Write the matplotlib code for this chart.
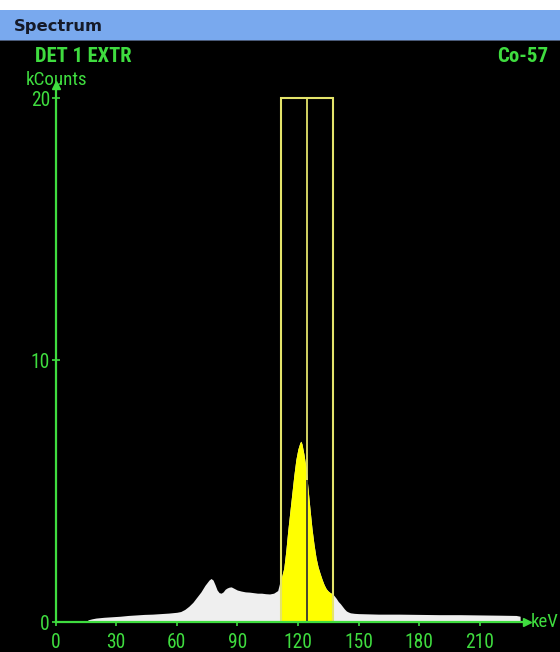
import numpy as np
import matplotlib
matplotlib.use("Agg")
import matplotlib.pyplot as plt
from matplotlib.patches import Rectangle
from matplotlib import font_manager as fm
from matplotlib.font_manager import FontProperties

# ---------------- data ----------------
energies = [16, 18, 20, 24, 28, 32, 36, 40, 44, 48, 52, 56, 60, 62, 64, 66, 68, 70,
            72, 74, 76, 77, 78, 79, 80, 81, 82, 83, 84, 85, 86, 87, 88, 90, 92, 94,
            96, 98, 100, 102, 104, 106, 108, 110, 111, 112, 113, 114, 115, 116, 117,
            118, 119, 120, 121, 121.5, 122, 123, 124, 125, 126, 127, 128, 129, 130,
            131, 132, 133, 134, 135, 136, 137, 138, 139, 140, 141, 142, 143, 144,
            145, 146, 148, 150, 160, 170, 180, 190, 200, 210, 220, 228, 230]
counts = [0.08, 0.12, 0.15, 0.18, 0.20, 0.22, 0.25, 0.27, 0.29, 0.30, 0.32, 0.34, 0.37,
          0.40, 0.48, 0.60, 0.75, 0.95, 1.15, 1.40, 1.60, 1.66, 1.60, 1.42, 1.22, 1.12,
          1.10, 1.15, 1.25, 1.30, 1.33, 1.34, 1.30, 1.22, 1.18, 1.15, 1.14, 1.12, 1.10,
          1.10, 1.08, 1.07, 1.10, 1.20, 1.50, 1.75, 2.05, 2.70, 3.50, 4.20, 4.90, 5.60,
          6.20, 6.60, 6.85, 6.90, 6.80, 6.40, 5.90, 5.10, 4.30, 3.55, 2.95, 2.45, 2.10,
          1.85, 1.62, 1.42, 1.27, 1.18, 1.12, 1.08, 1.00, 0.90, 0.78, 0.70, 0.60, 0.50,
          0.42, 0.38, 0.35, 0.33, 0.32, 0.30, 0.30, 0.29, 0.28, 0.28, 0.27, 0.26, 0.25,
          0.22]

x_ticks = [0, 30, 60, 90, 120, 150, 180, 210]
y_ticks = [0, 10, 20]
roi_lo, roi_center, roi_hi, roi_top = 111.6, 124.6, 137.2, 20
x_max, y_max = 233.4, 20.5

title = "Spectrum"
detector = "DET 1 EXTR"
isotope = "Co-57"
y_label = "kCounts"
x_label = "keV"

# ---------------- fonts ----------------
def is_bold(f):
    w = f.weight
    if isinstance(w, str):
        return w.lower() in ("bold", "heavy", "black", "extra bold", "demibold", "semibold")
    return w >= 600

def is_narrow(f):
    fn = f.fname.lower()
    st = str(f.stretch).lower()
    return ("condensed" in st or "narrow" in fn or "condensed" in fn
            or (isinstance(f.stretch, (int, float)) and f.stretch < 500))

def find_narrow(bold):
    prefs = ["Liberation Sans Narrow", "Roboto Condensed", "Open Sans Condensed",
             "DejaVu Sans", "Noto Sans", "Roboto", "Open Sans", "Liberation Sans"]
    for name in prefs:
        for f in fm.fontManager.ttflist:
            if f.name == name and is_narrow(f) and is_bold(f) == bold \
                    and str(f.style) == "normal":
                return FontProperties(fname=f.fname)
    return FontProperties(family="DejaVu Sans", weight="bold" if bold else "normal")

FP_REG = find_narrow(False)
FP_BOLD = find_narrow(True)

# ---------------- style ----------------
W, H = 560, 652
GREEN = "#3fdc3f"
BLUE = "#79a9ee"

fig = plt.figure(figsize=(W / 100, H / 100), dpi=100, facecolor="black")
renderer = fig.canvas.get_renderer()

def fx(px):
    return px / W

def fy(py):
    return 1 - py / H

def fit(txt, target_w, max_size):
    txt.set_fontsize(max_size)
    w = txt.get_window_extent(renderer=renderer).width
    if w > target_w:
        txt.set_fontsize(max_size * target_w / w)
    return txt

def ftext(x, y, s, fp, color, ha, target_w, max_size, **kw):
    t = fig.text(fx(x), fy(y), s, color=color, ha=ha, va="center",
                 fontproperties=fp.copy(), **kw)
    return fit(t, target_w, max_size)

# white strip + blue title bar
fig.patches.append(Rectangle((0, fy(10)), 1, 10 / H, transform=fig.transFigure,
                             facecolor="white", edgecolor="none", zorder=0))
fig.patches.append(Rectangle((0, fy(40)), 1, 30 / H, transform=fig.transFigure,
                             facecolor=BLUE, edgecolor="none", zorder=0))
fig.patches.append(Rectangle((0, fy(41)), 1, 1.2 / H, transform=fig.transFigure,
                             facecolor="#4a5a78", edgecolor="none", zorder=0))
fig.text(fx(14), fy(26), title, fontsize=11.8, fontweight="bold",
         color="#151a28", va="center", ha="left", family="DejaVu Sans")

ftext(35, 56, detector, FP_BOLD, GREEN, "left", 97, 15)
ftext(548, 56, isotope, FP_BOLD, GREEN, "right", 53, 15)
ftext(26, 80, y_label, FP_REG, GREEN, "left", 62, 14)

# axes
x0_px, y0_px = 55.5, 622
ax_w = x_max * 2.02
ax_h = y_max * 26.2
ax = fig.add_axes([fx(x0_px), fy(y0_px), ax_w / W, ax_h / H])
ax.set_facecolor("none")
ax.set_xlim(0, x_max)
ax.set_ylim(0, y_max)

e = np.array(energies)
c = np.array(counts)
ax.fill_between(e, c, 0, color="#efefef", linewidth=0, zorder=2)

xs = np.linspace(roi_lo, roi_hi, 300)
ys = np.interp(xs, e, c)
ax.fill_between(xs, ys, 0, color="#ffff00", linewidth=0, zorder=3)

box_col = "#e4e46a"
ax.plot([roi_lo, roi_lo, roi_hi, roi_hi], [0, roi_top, roi_top, 0],
        color=box_col, lw=1.5, zorder=4, solid_joinstyle="miter")
ax.vlines(roi_center, 0, roi_top, color=box_col, lw=1.3, zorder=4)
ax.vlines(roi_center, 0, np.interp(roi_center, e, c), color="#3a3a2a", lw=1.3, zorder=5)

for s in ["top", "right"]:
    ax.spines[s].set_visible(False)
for s in ["left", "bottom"]:
    ax.spines[s].set_color(GREEN)
    ax.spines[s].set_linewidth(1.6)
    ax.spines[s].set_zorder(6)

ax.set_xticks(x_ticks)
ax.set_yticks(y_ticks)
ax.set_xticklabels([str(v) for v in x_ticks])
ax.set_yticklabels([str(v) for v in y_ticks])
ax.tick_params(axis="both", colors=GREEN, direction="inout", length=6, width=1.2,
               labelcolor=GREEN)
ax.tick_params(axis="x", pad=5)
ax.tick_params(axis="y", pad=1)

# size tick labels so "120" is about 29 px wide
probe = fig.text(0, 0, "120", fontproperties=FP_REG.copy())
fit(probe, 29, 15)
tick_size = probe.get_fontsize()
probe.remove()
for lab in ax.get_xticklabels() + ax.get_yticklabels():
    lab.set_fontproperties(FP_REG.copy())
    lab.set_fontsize(tick_size)

# arrowheads
ax.plot([1], [0], marker=">", color=GREEN, markersize=6, transform=ax.transAxes,
        clip_on=False, zorder=7)
ax.plot([0], [1], marker="^", color=GREEN, markersize=6, transform=ax.transAxes,
        clip_on=False, zorder=7)
ftext(531, y0_px, x_label, FP_REG, GREEN, "left", 28, 14)

fig.savefig("out.png", dpi=100, facecolor="black")
